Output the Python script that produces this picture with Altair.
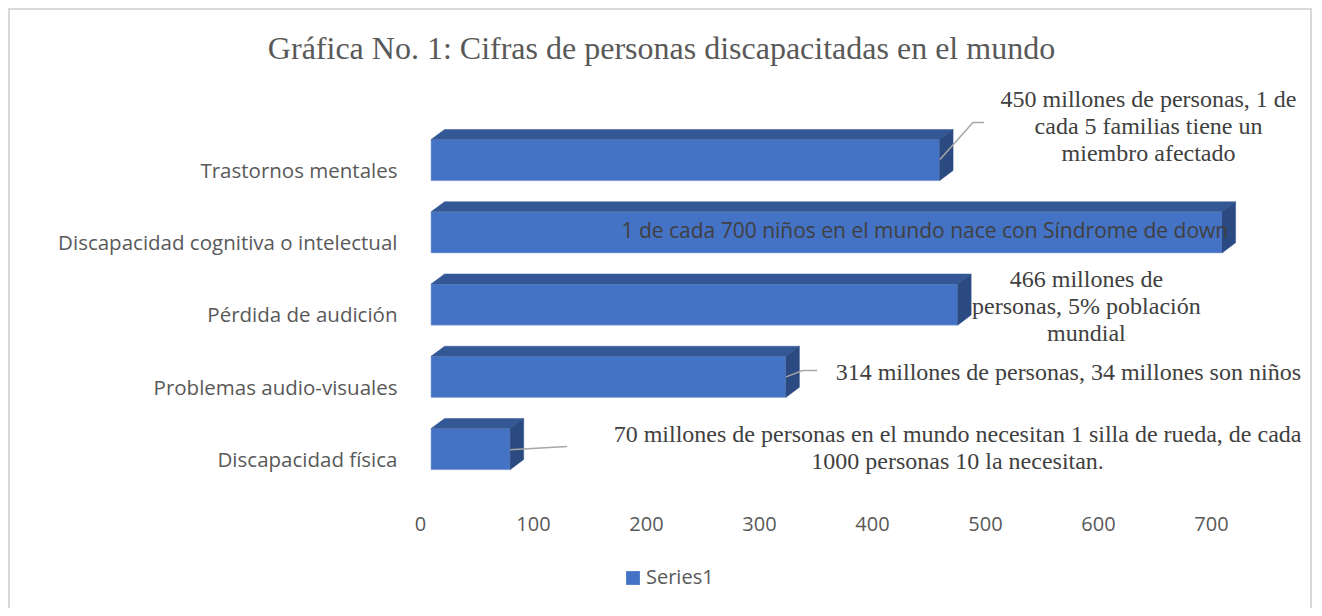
import json
import altair as alt
import pandas as pd

# ---------------- data ----------------
categories = [
    "Trastornos mentales",
    "Discapacidad cognitiva o intelectual",
    "Pérdida de audición",
    "Problemas audio-visuales",
    "Discapacidad física",
]
values = [450, 700, 466, 314, 70]
series_name = "Series1"
x_ticks = [0, 100, 200, 300, 400, 500, 600, 700]
title_text = "Gráfica No. 1: Cifras de personas discapacitadas en el mundo"
notes = [
    "450 millones de personas, 1 de\ncada 5 familias tiene un\nmiembro afectado",
    "1 de cada 700 niños en el mundo nace con Síndrome de down",
    "466 millones de\npersonas, 5% población\nmundial",
    "314 millones de personas, 34 millones son niños",
    "70 millones de personas en el mundo necesitan 1 silla de rueda, de cada\n1000 personas 10 la necesitan.",
]

# ---------------- layout constants ----------------
W, H = 791, 361.25
PAD_L, PAD_T = 423, 116
TOTAL_W, TOTAL_H = 1306, 600
FACE_A, FACE_B = 0.216, 0.784      # front face within slot
DX, DY = 12.0, 0.14                # 3D depth (data units / slot units)
LABEL_POS = 0.655
FRONT, TOPC, SIDEC = "#4472C4", "#345895", "#2B4A82"

# annotation anchors: x offset from bar end (data units), y of first line (slot units)
note_dx = [185, -263, 114, 250, 396]
note_dy = [-0.338, 1.49, 2.154, 3.44, 4.30]
# leader lines: (dx from bar end, slot y)
leaders = {
    0: [(0.4, 0.49), (29.6, -0.02), (39.4, -0.02)],
    3: [(0.2, 3.50), (15, 3.413), (27.6, 3.413)],
    4: [(0, 4.507), (50.4, 4.465)],
}

front_rows, face_rows = [], []
for k, (c, v) in enumerate(zip(categories, values)):
    a, b = k + FACE_A, k + FACE_B
    front_rows.append(dict(cat=c, x=0, x2=v, y=a, y2=b, series=series_name))
    for px, y1, y2 in [(0, a, a), (DX, a, a - DY), (v, a, a - DY), (v + DX, a - DY, a - DY)]:
        face_rows.append(dict(g=f"top{k}", x=px, y=y1, y2=y2, col=TOPC))
    for px, y1, y2 in [(v, b, a), (v + DX, b - DY, a - DY)]:
        face_rows.append(dict(g=f"side{k}", x=px, y=y1, y2=y2, col=SIDEC))

front_df = pd.DataFrame(front_rows)
face_df = pd.DataFrame(face_rows)

note_df = pd.DataFrame(dict(
    text=notes,
    x=[v + d for v, d in zip(values, note_dx)],
    y=note_dy,
    kind=["serif", "sans", "serif", "serif", "serif"],
))

lead_rows = []
for k, pts in leaders.items():
    for dx, y in pts:
        lead_rows.append(dict(g=k, x=values[k] + dx, y=y))
lead_df = pd.DataFrame(lead_rows)

xs = alt.Scale(domain=[0, 700], nice=False, zero=False)
ys = alt.Scale(domain=[0, 5], reverse=True, nice=False, zero=False)

label_expr = json.dumps(categories, ensure_ascii=False) + "[floor(datum.value)]"

x_axis = alt.Axis(values=x_ticks, domain=False, ticks=False, grid=False,
                  labelFont="Open Sans", labelFontSize=20, labelColor="#595959",
                  labelPadding=29, labelOffset=-11, labelFlush=False, title=None)
y_axis = alt.Axis(values=[k + LABEL_POS for k in range(len(categories))],
                  labelExpr=label_expr, domain=False, ticks=False, grid=False,
                  labelFont="Open Sans", labelFontSize=20.5, labelColor="#595959",
                  labelPadding=34, labelLimit=0, title=None)

front = alt.Chart(front_df).mark_rect(stroke="#8EA9DB", strokeWidth=0.6).encode(
    x=alt.X("x:Q", scale=xs, axis=x_axis),
    x2="x2",
    y=alt.Y("y:Q", scale=ys, axis=y_axis),
    y2="y2",
    color=alt.Color("series:N", scale=alt.Scale(range=[FRONT]),
                    legend=alt.Legend(title=None, orient="none", legendX=192, legendY=444,
                                      symbolType="square", symbolSize=190, symbolStrokeWidth=0,
                                      labelFont="Open Sans", labelFontSize=20,
                                      labelColor="#595959", labelOffset=3)),
)

faces = alt.Chart(face_df).mark_area(orient="vertical", strokeWidth=0.5).encode(
    x=alt.X("x:Q", scale=xs),
    y=alt.Y("y:Q", scale=ys, stack=None),
    y2="y2",
    detail="g:N",
    color=alt.Color("col:N", scale=None),
    stroke=alt.Stroke("col:N", scale=None),
)

leader_lines = alt.Chart(lead_df).mark_line(color="#A6A6A6", strokeWidth=1.5).encode(
    x=alt.X("x:Q", scale=xs),
    y=alt.Y("y:Q", scale=ys),
    detail="g:N",
)

serif_notes = alt.Chart(note_df).transform_filter("datum.kind == 'serif'").mark_text(
    font="Liberation Serif", fontSize=24, color="#404040", align="center",
    baseline="middle", lineBreak="\n", lineHeight=27,
).encode(x=alt.X("x:Q", scale=xs), y=alt.Y("y:Q", scale=ys), text="text:N")

sans_notes = alt.Chart(note_df).transform_filter("datum.kind == 'sans'").mark_text(
    font="Open Sans", fontSize=21, color="#404040", align="center",
    baseline="middle",
).encode(x=alt.X("x:Q", scale=xs), y=alt.Y("y:Q", scale=ys), text="text:N")

border = alt.Chart(alt.Data(values=[{}])).mark_rect(
    fill="transparent", stroke="#D9D9D9", strokeWidth=2
).encode(
    x=alt.value(-PAD_L + 1), x2=alt.value(TOTAL_W - PAD_L - 3),
    y=alt.value(-PAD_T + 1), y2=alt.value(TOTAL_H - PAD_T + 20),
)

chart = alt.layer(border, front, faces, leader_lines, serif_notes, sans_notes).properties(
    width=W, height=H,
    title=alt.TitleParams(text=title_text, font="Liberation Serif", fontSize=32,
                          fontWeight="normal", color="#595959", anchor="middle",
                          dx=-165, offset=-58),
    autosize=alt.AutoSizeParams(type="none"),
    padding={"left": PAD_L, "top": PAD_T, "right": TOTAL_W - PAD_L - W,
             "bottom": TOTAL_H - PAD_T - H},
    view=alt.ViewBackground(stroke=None, strokeWidth=0),
).configure_view(stroke=None, strokeWidth=0).configure(background="white")

chart.save("out.html", embed_options={"renderer": "svg", "actions": False})
